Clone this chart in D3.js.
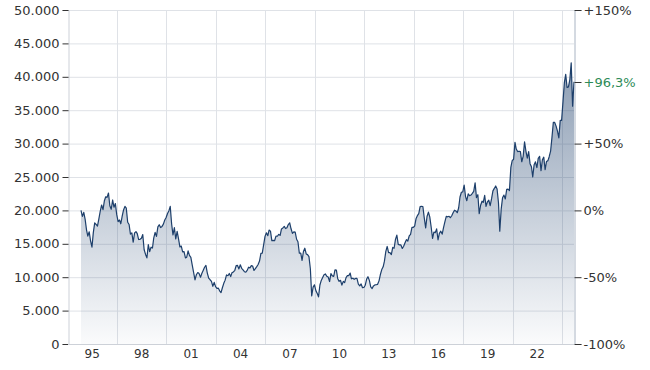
<!DOCTYPE html>
<html>
<head>
<meta charset="utf-8">
<script src="https://cdn.jsdelivr.net/npm/d3@7"></script>
<style>
  body { margin: 0; background: #fff; }
  svg text { font-family: "DejaVu Sans", Verdana, sans-serif; fill: #333; }
</style>
</head>
<body>
<div id="chart"></div>
<script>
// monthly closes, first month = Oct 1994
const startMonth = "1994-10-25";
const closes = [
  20000, 19100, 19700,
  18650, 17050, 16140, 16800, 15440, 14500, 16680, 18120, 17910, 17650, 18740, 19870,
  20810, 20120, 21400, 22040, 21950, 22600, 20690, 20170, 21560, 20470, 21020, 19360,
  18330, 18560, 18000, 19150, 20070, 20600, 20330, 18230, 17890, 16460, 16640, 15260,
  16630, 16830, 16530, 15640, 15670, 15830, 16380, 14110, 13410, 12900, 14880, 13840,
  14500, 14370, 15840, 16700, 16110, 17530, 17860, 17440, 17600, 17940, 18560, 18930,
  19540, 19960, 20600, 17970, 16330, 17410, 15730, 16860, 15750, 14540, 14650, 13790,
  13840, 12880, 13000, 13930, 13260, 12970, 11860, 10710, 9600, 10370, 10700, 10540,
  10000, 10590, 11020, 11490, 11760, 10620, 9880, 9620, 9380, 8640, 9220, 8580,
  8340, 8360, 7970, 7700, 8420, 9080, 9560, 10340, 10220, 10560, 10100, 10680,
  10780, 11040, 11720, 11760, 11240, 11860, 11330, 11080, 10820, 10770, 11020, 11490,
  11390, 11740, 11670, 11010, 11280, 11580, 11900, 12410, 13570, 13610, 14870, 16110,
  16650, 16210, 17060, 16900, 15470, 15500, 15460, 16140, 16130, 16400, 16270, 17230,
  17380, 17600, 17290, 17400, 17880, 18140, 17250, 16570, 16790, 16740, 15680, 15310,
  13590, 13600, 12530, 13850, 14340, 13480, 13380, 13070, 11260, 7200, 8510, 8860,
  7990, 7570, 7050, 8830, 9520, 9960, 10360, 10490, 10130, 10030, 9350, 10550,
  10200, 10130, 11090, 11060, 9770, 9380, 9540, 8820, 9370, 9200, 9940, 10230,
  10240, 10620, 9760, 9850, 9690, 9820, 9830, 8960, 8700, 8990, 8430, 8460,
  8800, 9720, 10080, 9520, 8540, 8300, 8700, 8840, 8870, 8930, 9450, 10400,
  11140, 11560, 12400, 13860, 14600, 13680, 13670, 13390, 14460, 14330, 15660, 16290,
  14910, 14840, 14830, 14300, 14630, 15160, 15620, 15420, 16170, 16410, 17460, 17450,
  17670, 18800, 19210, 19520, 20560, 20600, 20580, 18890, 17390, 19080, 19750, 19030,
  17520, 15800, 16760, 16670, 17230, 15600, 16570, 16890, 16450, 17420, 18310, 19110,
  19040, 19120, 18910, 19200, 19650, 20030, 19920, 19650, 20360, 22010, 22720, 22760,
  23800, 22070, 21450, 22470, 22200, 22300, 22550, 22860, 24120, 21920, 22350, 19500,
  20770, 21380, 21210, 22260, 20600, 21280, 21520, 20700, 21760, 22930, 23290, 23660,
  23200, 21140, 16900, 20190, 21880, 22290, 21710, 23140, 23180, 22980, 26430, 27440,
  27660, 30200, 29180, 28810, 28860, 28790, 27280, 28090, 30250, 28890, 27820, 28790,
  27000, 26530, 25000, 26850, 27280, 26390, 27800, 28090, 25940, 27590, 27970, 26090,
  27330, 27450, 28040, 28860, 30890, 33190, 33170, 32620, 31860, 30860, 33490, 33460,
  36290, 39170, 40370, 38400, 38490, 39580, 42100, 35600, 39260
];
const leftTicks = [0, 5000, 10000, 15000, 20000, 25000, 30000, 35000, 40000, 45000, 50000];
const rightTicks = [-100, -50, 0, 50, 150];
const gridYears = [1997, 2000, 2003, 2006, 2009, 2012, 2015, 2018, 2021, 2024];
const labelYears = [1995, 1998, 2001, 2004, 2007, 2010, 2013, 2016, 2019, 2022];

const W = 650, H = 370;
const m = {left: 68, right: 574, top: 10, bottom: 344};

const de = d3.formatLocale({decimal: ",", thousands: ".", grouping: [3], currency: ["", "€"]});
const fmtNum = de.format(",.0f");

const t0 = d3.timeParse("%Y-%m-%d")(startMonth);
const data = closes.map((v, i) => ({date: d3.timeMonth.offset(t0, i), value: v}));

const x = d3.scaleTime()
  .domain(d3.extent(data, d => d.date))
  .range([81, m.right]);
const y = d3.scaleLinear().domain([0, 50000]).range([m.bottom, m.top]);
const base = closes[0];
const yPct = d3.scaleLinear().domain([-100, 150]).range([m.bottom, m.top]);

const svg = d3.select("#chart").append("svg")
  .attr("width", W).attr("height", H);

const defs = svg.append("defs");
const grad = defs.append("linearGradient")
  .attr("id", "fillGrad")
  .attr("gradientUnits", "userSpaceOnUse")
  .attr("x1", 0).attr("x2", 0).attr("y1", m.top).attr("y2", m.bottom);
grad.append("stop").attr("offset", "0%").attr("stop-color", "#1d3f6b").attr("stop-opacity", 0.6);
grad.append("stop").attr("offset", "100%").attr("stop-color", "#1d3f6b").attr("stop-opacity", 0.02);

// grid
svg.append("g")
  .selectAll("line")
  .data(leftTicks.slice(1))
  .join("line")
  .attr("x1", m.left).attr("x2", m.right)
  .attr("y1", d => y(d) + 0.5).attr("y2", d => y(d) + 0.5)
  .attr("stroke", "#dfe2e7");

svg.append("g")
  .selectAll("line")
  .data(gridYears)
  .join("line")
  .attr("x1", d => Math.round(x(new Date(d, 0, 1))) + 0.5)
  .attr("x2", d => Math.round(x(new Date(d, 0, 1))) + 0.5)
  .attr("y1", m.top).attr("y2", m.bottom)
  .attr("stroke", "#dfe2e7");

// area + line
const area = d3.area()
  .x(d => x(d.date))
  .y0(y(0))
  .y1(d => y(d.value));
const line = d3.line()
  .x(d => x(d.date))
  .y(d => y(d.value));

svg.append("path")
  .datum(data)
  .attr("d", area)
  .attr("fill", "url(#fillGrad)");

svg.append("path")
  .datum(data)
  .attr("d", line)
  .attr("fill", "none")
  .attr("stroke", "#1d3f6b")
  .attr("stroke-width", 1.2)
  .attr("stroke-linejoin", "round");

// left axis
const gl = svg.append("g").attr("transform", `translate(${m.left + 0.5},0)`);
gl.call(d3.axisLeft(y).tickValues(leftTicks).tickFormat(fmtNum).tickSize(6).tickPadding(3));
gl.select(".domain").attr("stroke", "#cdd1d8");
gl.selectAll(".tick line").attr("stroke", "#333");
gl.selectAll("text").attr("font-size", 13).attr("fill", "#333");

// right axis
const gr = svg.append("g").attr("transform", `translate(${m.right + 0.5},0)`);
gr.call(d3.axisRight(yPct).tickValues(rightTicks)
  .tickFormat(d => (d > 0 ? "+" : "") + d + "%").tickSize(7).tickPadding(2));
gr.select(".domain").attr("stroke", "#a9b4c3");
gr.selectAll(".tick line").attr("stroke", "#333");
gr.selectAll("text").attr("font-size", 13).attr("fill", "#333");

// current change marker
const last = closes[closes.length - 1];
const pct = (last / base - 1) * 100;
const mark = svg.append("g").attr("transform", `translate(${m.right + 0.5},${Math.round(y(last)) + 0.5})`);
mark.append("line").attr("x2", 7).attr("stroke", "#333");
mark.append("text")
  .attr("x", 9).attr("dy", "0.32em")
  .attr("font-size", 13)
  .style("fill", "#2e8b57")
  .text("+" + de.format(",.1f")(pct) + "%");

// bottom axis
svg.append("line")
  .attr("x1", m.left).attr("x2", m.right)
  .attr("y1", m.bottom + 0.5).attr("y2", m.bottom + 0.5)
  .attr("stroke", "#cdd1d8");

svg.append("g")
  .selectAll("text")
  .data(labelYears)
  .join("text")
  .attr("x", d => x(new Date(d, 6, 1)))
  .attr("y", 358)
  .attr("text-anchor", "middle")
  .attr("font-size", 12)
  .text(d => String(d).slice(2));
</script>
</body>
</html>
